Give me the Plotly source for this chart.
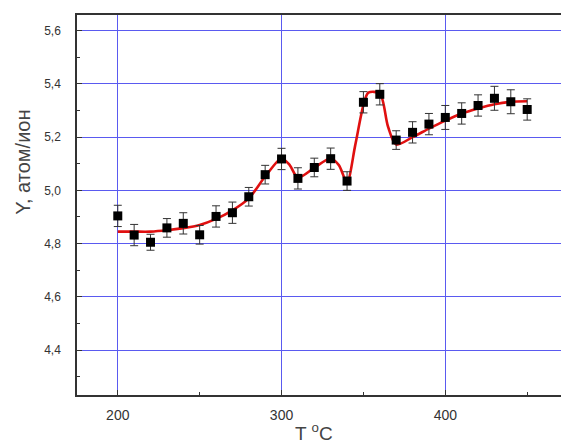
import plotly.graph_objects as go

# measured points
T = [200, 210, 220, 230, 240, 250, 260, 270, 280, 290, 300, 310, 320, 330, 340,
     350, 360, 370, 380, 390, 400, 410, 420, 430, 440, 450]
Y = [4.904, 4.832, 4.805, 4.859, 4.876, 4.833, 4.902, 4.916, 4.976, 5.059, 5.118,
     5.045, 5.086, 5.119, 5.035, 5.331, 5.361, 5.189, 5.218, 5.249, 5.274, 5.289,
     5.319, 5.346, 5.333, 5.304]
Y_ERR = [0.04, 0.04, 0.03, 0.035, 0.04, 0.035, 0.04, 0.04, 0.035, 0.035, 0.04,
         0.04, 0.035, 0.04, 0.035, 0.04, 0.04, 0.035, 0.04, 0.04, 0.045, 0.04,
         0.04, 0.045, 0.045, 0.04]

# fitted curve (red)
T_FIT = [200, 210, 220, 230, 240, 250, 260, 270, 280, 290, 300, 305, 310, 320, 330,
         335, 340, 345, 350, 353, 360, 365, 370, 380, 390, 400, 410, 420, 430, 440, 450]
Y_FIT = [4.845, 4.845, 4.845, 4.850, 4.858, 4.870, 4.893, 4.925, 4.970, 5.052, 5.120,
         5.095, 5.048, 5.085, 5.120, 5.095, 5.030, 5.170, 5.320, 5.367, 5.364, 5.240,
         5.172, 5.200, 5.232, 5.262, 5.289, 5.308, 5.324, 5.333, 5.335]

X_TICKS = [200, 300, 400]
X_MINOR = [250, 350, 450]
Y_TICKS = [4.4, 4.6, 4.8, 5.0, 5.2, 5.4, 5.6]
Y_MINOR = [4.3, 4.5, 4.7, 4.9, 5.1, 5.3, 5.5]
GRID = "#5a5af0"

fig = go.Figure()
fig.add_trace(go.Scatter(
    x=T_FIT, y=Y_FIT, mode="lines",
    line=dict(color="#e01010", width=2.6, shape="spline", smoothing=0.8),
    showlegend=False, hoverinfo="skip"))
fig.add_trace(go.Scatter(
    x=T, y=Y, mode="markers",
    marker=dict(symbol="square", size=9, color="black"),
    error_y=dict(type="data", array=Y_ERR, color="#333333", thickness=1, width=4),
    showlegend=False))

# page body has an 8px default margin, so the figure is sized to fit the window
fig.update_layout(
    width=561, height=438,
    margin=dict(l=69, r=1, t=7, b=51),
    paper_bgcolor="white", plot_bgcolor="white",
    separators=", ",
    font=dict(family="Liberation Sans, Arial, sans-serif", color="#333333"),
    annotations=[
        dict(text="Y, атом/ион", xref="paper", yref="paper", x=-0.111, y=0.613,
             textangle=-90, showarrow=False, font=dict(size=20, color="#444444"),
             xanchor="center", yanchor="middle"),
        dict(text="T <sup>o</sup>C", xref="paper", yref="paper", x=0.485, y=-0.097,
             showarrow=False, font=dict(size=19, color="#444444"),
             xanchor="center", yanchor="middle"),
    ],
)
fig.update_xaxes(
    range=[175.1, 473.7], tickvals=X_TICKS, ticktext=[str(v) for v in X_TICKS],
    showgrid=True, gridcolor=GRID, gridwidth=1,
    showline=True, linecolor="#333333", linewidth=1.5, mirror=True,
    ticks="inside", ticklen=5, tickcolor="#333333",
    minor=dict(tickvals=X_MINOR, ticks="inside", ticklen=3,
               tickcolor="#333333", showgrid=False, gridcolor=GRID),
    tickfont=dict(size=14, color="#333333"), ticklabelstandoff=6,
    zeroline=False)
fig.update_yaxes(
    range=[4.231, 5.659], tickvals=Y_TICKS, tickformat=".1f",
    showgrid=True, gridcolor=GRID, gridwidth=1,
    showline=True, linecolor="#333333", linewidth=1.5, mirror=True,
    ticks="inside", ticklen=5, tickcolor="#333333",
    minor=dict(tickvals=Y_MINOR, ticks="inside", ticklen=3,
               tickcolor="#333333", showgrid=False, gridcolor=GRID),
    tickfont=dict(size=12, color="#333333"), ticklabelstandoff=12,
    zeroline=False)

fig.write_html("out.html")
